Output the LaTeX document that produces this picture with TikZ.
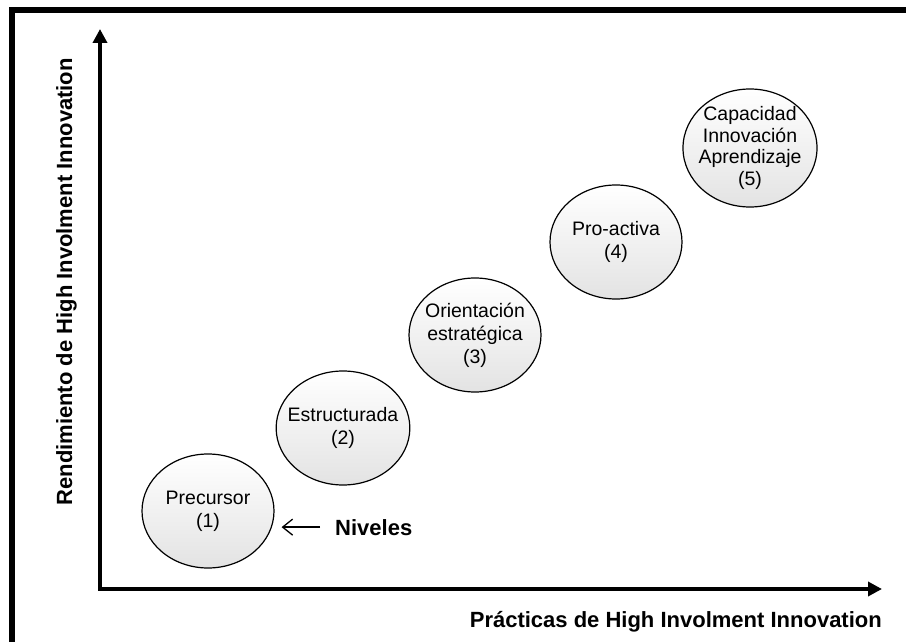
\documentclass[tikz,border=0pt]{standalone}
\usepackage{fontspec}
\setmainfont{Liberation Sans}
\usetikzlibrary{arrows.meta,shapes.geometric}

\tikzset{
  level/.style={ellipse, draw=black, line width=1.2pt,
    top color=white, bottom color=black!11,
    minimum width=132pt, minimum height=114pt, inner sep=-8pt,
    align=center, font=\fontsize{19.5}{23}\selectfont},
  axislabel/.style={inner sep=0pt, font=\fontsize{22}{26}\selectfont\bfseries},
  axisline/.style={line width=3.8pt, line join=miter,
    {Triangle[length=14pt,width=14pt]}-{Triangle[length=14pt,width=14pt]}},
  pointer/.style={line width=1.3pt, -{Straight Barb[length=10pt,width=16pt]}},
}

\begin{document}
\begin{tikzpicture}[x=1pt, y=-1pt]
  \useasboundingbox (0,0) rectangle (906,642);
  \clip (0,0) rectangle (906,642);

  % outer frame (only its top and left sides fall inside the page)
  \draw[line width=6pt] (12,10) rectangle (930,670);

  % axes
  \coordinate (origin) at (100,589);
  \coordinate (ytip) at (100,29);
  \coordinate (xtip) at (882,589);
  \draw[axisline] (ytip) -- (origin) -- (xtip);

  % axis titles
  \node[axislabel, rotate=90, anchor=base east] (ylab) at (72,58)
    {Rendimiento de High Involment Innovation};
  \node[axislabel, anchor=base east] (xlab) at (882,627)
    {Prácticas de High Involment Innovation};

  % maturity levels
  \node[level] (p1) at (208,511) {Precursor\\(1)};
  \node[level] (p2) at (343,428) {Estructurada\\(2)};
  \node[level] (p3) at (475,335) {Orientación\\estratégica\\(3)};
  \node[level] (p4) at (616,242) {Pro-activa\\(4)};
  \node[level, minimum width=134pt, minimum height=118pt, inner sep=-12pt,
    font=\fontsize{19.5}{21.5}\selectfont] (p5) at (750,148)
    {Capacidad\\Innovación\\Aprendizaje\\(5)};

  % pointer to the levels
  \node[axislabel, anchor=base west] (niv) at (335,535) {Niveles};
  \draw[pointer, shorten <=15pt, shorten >=7pt] (niv.west) -- (p1.east |- niv.west);
\end{tikzpicture}
\end{document}
